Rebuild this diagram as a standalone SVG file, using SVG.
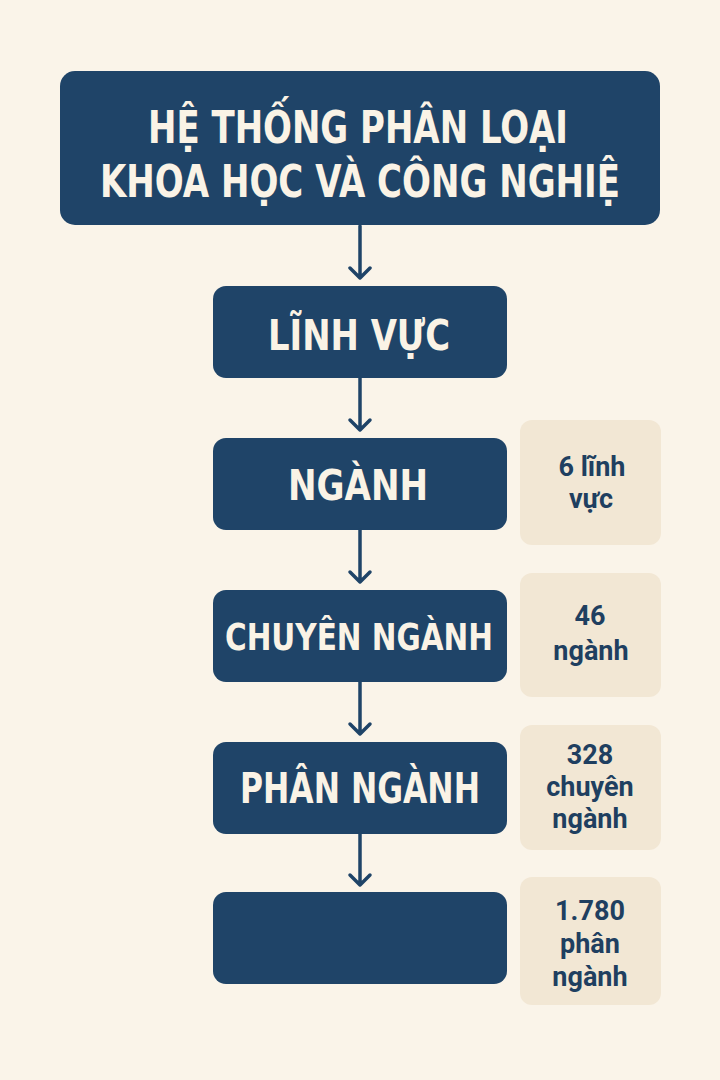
<svg xmlns="http://www.w3.org/2000/svg" width="720" height="1080" viewBox="0 0 720 1080">
<defs>
<style>
.node{fill:#1f4468}
.nt{fill:#faf3e6;font-family:"DejaVu Sans Condensed","DejaVu Sans","Liberation Sans",sans-serif;font-weight:bold;font-stretch:condensed;text-anchor:middle}
.side{fill:#f2e7d4}
.st{fill:#1f3f60;font-family:Roboto,"Liberation Sans",sans-serif;font-weight:bold;font-size:27px;text-anchor:middle}
.conn{stroke:#1f4468;stroke-width:3.5;fill:none;stroke-linecap:round;stroke-linejoin:round}
</style>
</defs>
<rect width="720" height="1080" fill="#faf4e9"/>
<g id="title">
<rect class="node" x="60" y="71" width="600" height="154" rx="15"/>
<text class="nt" x="358" y="143" font-size="44" textLength="420" lengthAdjust="spacingAndGlyphs">HỆ THỐNG PHÂN LOẠI</text>
<text class="nt" x="360" y="197" font-size="44" textLength="520" lengthAdjust="spacingAndGlyphs">KHOA HỌC VÀ CÔNG NGHIỆ</text>
</g>
<g id="linhvuc">
<rect class="node" x="213" y="286" width="294" height="92" rx="13"/>
<text class="nt" x="359" y="350" font-size="42" textLength="182" lengthAdjust="spacingAndGlyphs">LĨNH VỰC</text>
</g>
<g id="nganh">
<rect class="node" x="213" y="438" width="294" height="92" rx="13"/>
<text class="nt" x="358" y="500" font-size="43" textLength="140" lengthAdjust="spacingAndGlyphs">NGÀNH</text>
</g>
<g id="chuyennganh">
<rect class="node" x="213" y="590" width="294" height="92" rx="13"/>
<text class="nt" x="359" y="650" font-size="38" textLength="268" lengthAdjust="spacingAndGlyphs">CHUYÊN NGÀNH</text>
</g>
<g id="phannganh">
<rect class="node" x="213" y="742" width="294" height="92" rx="13"/>
<text class="nt" x="360" y="803" font-size="42" textLength="240" lengthAdjust="spacingAndGlyphs">PHÂN NGÀNH</text>
</g>
<g id="empty">
<rect class="node" x="213" y="892" width="294" height="92" rx="13"/>
</g>
<g id="side1">
<rect class="side" x="520" y="420" width="141" height="125" rx="12"/>
<text class="st" x="592" y="476">6 lĩnh</text>
<text class="st" x="591" y="508">vực</text>
</g>
<g id="side2">
<rect class="side" x="520" y="573" width="141" height="124" rx="12"/>
<text class="st" x="590" y="625">46</text>
<text class="st" x="591" y="660">ngành</text>
</g>
<g id="side3">
<rect class="side" x="520" y="725" width="141" height="125" rx="12"/>
<text class="st" x="590" y="764">328</text>
<text class="st" x="590" y="796">chuyên</text>
<text class="st" x="590" y="828">ngành</text>
</g>
<g id="side4">
<rect class="side" x="520" y="877" width="141" height="128" rx="12"/>
<text class="st" x="590" y="920">1.780</text>
<text class="st" x="590" y="953">phân</text>
<text class="st" x="590" y="986">ngành</text>
</g>
<g id="connectors">
<path class="conn" d="M360 226V278M350 268L360 278L370 268"/>
<path class="conn" d="M360 378V430M350 420L360 430L370 420"/>
<path class="conn" d="M360 530V582M350 572L360 582L370 572"/>
<path class="conn" d="M360 682V734M350 724L360 734L370 724"/>
<path class="conn" d="M360 834V885M350 875L360 885L370 875"/>
</g>
</svg>
